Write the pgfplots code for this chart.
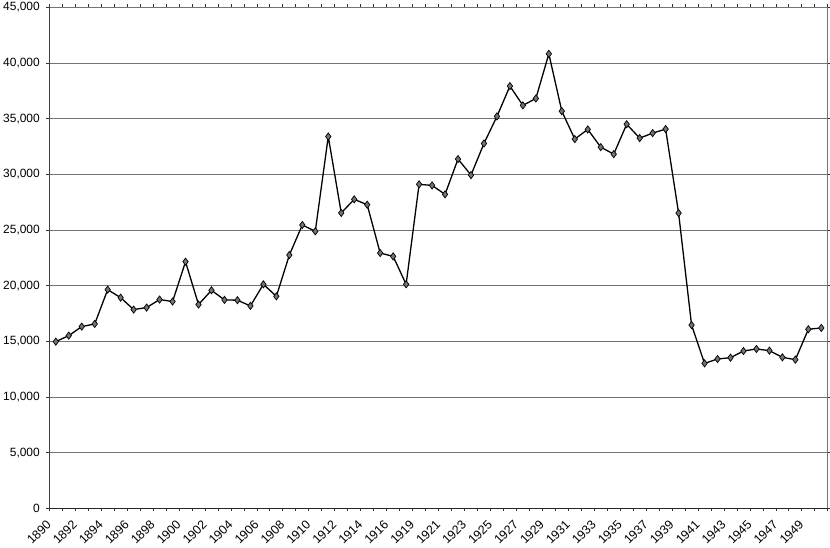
\documentclass[border=0pt]{standalone}
\usepackage{pgfplots}
\pgfplotsset{compat=1.18}
\usepackage{fontspec}
\setmainfont{Liberation Sans}
\begin{document}
\begin{tikzpicture}
\begin{axis}[
  scale only axis, width=778.5bp, height=501bp,
  xmin=-0.5, xmax=59.5, ymin=0, ymax=45000,
  axis line style={black!55, line width=0.8bp},
  xtick={0,2,...,58},
  xticklabels={1890,1892,1894,1896,1898,1900,1902,1904,1906,1908,1910,1912,1914,1916,1919,1921,1923,1925,1927,1929,1931,1933,1935,1937,1939,1941,1943,1945,1947,1949},
  minor xtick={-0.5,0.5,...,59.5},
  ytick={0,5000,...,45000},
  scaled y ticks=false,
  tick align=outside, major tick length=3bp, minor tick length=3bp,
  major x tick style={draw=none},
  minor x tick style={black!80, line width=0.8bp},
  y tick style={black!80, line width=0.8bp},
  ymajorgrids, major grid style={black!55, line width=0.8bp},
  x tick label style={xshift=-4.5bp, yshift=-8.5bp, rotate=45, anchor=east, font=\fontsize{12.5}{14}\selectfont},
  y tick label style={font=\fontsize{12}{14}\selectfont, xshift=-3bp},
  /pgf/number format/assume math mode=true,
  /pgf/number format/.cd, fixed, 1000 sep={,},
]
\addplot[black, line width=1.3bp, mark=diamond*, mark size=3.6bp,
  mark options={fill=black!55, draw=black, line width=0.7bp}] coordinates {
(0,14970) (1,15510) (2,16320) (3,16560) (4,19640) (5,18920) (6,17850) (7,18030)
(8,18750) (9,18570) (10,22150) (11,18300) (12,19580) (13,18720) (14,18690)
(15,18180) (16,20120) (17,19040) (18,22750) (19,25450) (20,24880) (21,33390)
(22,26530) (23,27750) (24,27270) (25,22930) (26,22630) (27,20120) (28,29100)
(29,29000) (30,28200) (31,31370) (32,29930) (33,32770) (34,35200) (35,37920)
(36,36190) (37,36810) (38,40820) (39,35670) (40,33160) (41,34030) (42,32440)
(43,31810) (44,34500) (45,33250) (46,33700) (47,34060) (48,26520) (49,16460)
(50,13020) (51,13410) (52,13530) (53,14130) (54,14310) (55,14160) (56,13560)
(57,13350) (58,16080) (59,16200)
};
\draw[black!85, line width=1.2bp] (rel axis cs:0,1) -- (rel axis cs:0,0) -- (rel axis cs:1,0);
\end{axis}
\pgfresetboundingbox
\path ([shift={(-49.3bp,-38.7bp)}]current axis.south west) rectangle ([shift={(2.2bp,7.3bp)}]current axis.north east);
\end{tikzpicture}
\end{document}
